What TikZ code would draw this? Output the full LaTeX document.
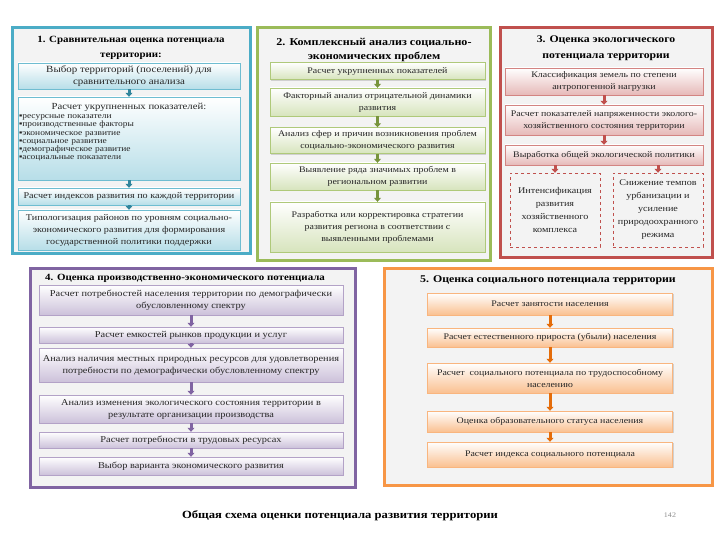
\documentclass[tikz,border=0pt]{standalone}
\usepackage{fontspec}
\setmainfont{Liberation Serif}[FakeStretch=1.15]
\usetikzlibrary{arrows.meta,shadows}

\definecolor{panelfill}{HTML}{F3F3F3}
\definecolor{tealline}{HTML}{4BACC6}
\definecolor{tealtint}{HTML}{B7DEE8}
\definecolor{tealarrow}{HTML}{31859C}
\definecolor{greenline}{HTML}{9BBB59}
\definecolor{greentint}{HTML}{D7E4BD}
\definecolor{greenarrow}{HTML}{77933C}
\definecolor{redline}{HTML}{C0504D}
\definecolor{redtint}{HTML}{E6B9B8}
\definecolor{purpleline}{HTML}{8064A2}
\definecolor{purpletint}{HTML}{CCC1DA}
\definecolor{orangeline}{HTML}{F79646}
\definecolor{orangetint}{HTML}{FAC090}
\definecolor{orangearrow}{HTML}{E46C0A}

\tikzset{
  panel/.style={line width=3pt, fill=panelfill},
  paneltitle/.style={font=\bfseries\fontsize{9.5}{15}\selectfont, align=center, inner sep=0pt},
  box/.style={inner sep=1pt, align=center, text=black!85,
    font=\fontsize{8.6}{12}\selectfont,
    drop shadow={shadow xshift=1.2pt, shadow yshift=-1.2pt, opacity=0.3}},
  boxa/.style={box, minimum width=222pt, font=\fontsize{8.8}{12}\selectfont,
    top color=white, bottom color=tealtint, draw=tealline!80},
  boxb/.style={box, minimum width=215pt, top color=white, bottom color=greentint, draw=greenline!80},
  boxc/.style={box, minimum width=198pt, top color=white, bottom color=redtint, draw=redline!70},
  boxd/.style={box, minimum width=304pt, font=\fontsize{9}{12}\selectfont,
    top color=white, bottom color=purpletint, draw=purpleline!60},
  boxe/.style={box, minimum width=245pt, top color=white, bottom color=orangetint, draw=orangeline!70},
  dashbox/.style={draw=redline, dashed, align=center, inner sep=1pt, minimum width=90pt,
    minimum height=74pt, font=\fontsize{8.8}{13}\selectfont, text=black!85},
  flow/.style={-{Triangle[width=7pt,length=4pt]}, line width=3pt},
}

\begin{document}
\begin{tikzpicture}[x=1pt,y=-1pt]
\useasboundingbox (0,0) rectangle (720,540);

% The five panels
\draw[panel, draw=tealline] (12,28) rectangle (250,253);
\draw[panel, draw=greenline] (257,28) rectangle (490,260);
\draw[panel, draw=redline] (500,28) rectangle (712,257);
\draw[panel, draw=purpleline] (30,268) rectangle (355,487);
\draw[panel, draw=orangeline] (384,268) rectangle (712,485);

% Panel 1
\node[paneltitle] (ta) at (131,47.5) {1. Сравнительная оценка потенциала\\территории:};
\node[boxa, minimum height=26pt, font=\fontsize{9.5}{12}\selectfont] (a1) at (129,76) {Выбор территорий (поселений) для\\сравнительного анализа};
\node[boxa, minimum height=83pt, text width=220pt, align=left, font=\fontsize{8.2}{8.3}\selectfont] (a2) at (129,138.5)
  {{\fontsize{9.3}{9}\selectfont\makebox[\linewidth]{Расчет укрупненных показателей:}}\\[1pt]
   ▪ресурсные показатели\\
   ▪производственные факторы\\
   ▪экономическое развитие\\
   ▪социальное развитие\\
   ▪демографическое развитие\\
   ▪асоциальные показатели\\[6pt]\mbox{}};
\node[boxa, minimum height=17pt] (a3) at (129,196.5) {Расчет индексов развития по каждой территории};
\node[boxa, minimum height=40pt] (a4) at (129,230) {Типологизация районов по уровням социально-\\экономического развития для формирования\\государственной политики поддержки};
\foreach \i/\j in {a1/a2, a2/a3, a3/a4}
  \draw[flow, tealarrow] (\i.south) -- (\j.north);

% Panel 2
\node[paneltitle, font=\bfseries\fontsize{10.5}{14}\selectfont] (tb) at (374,50) {2. Комплексный анализ социально-\\экономических проблем};
\node[boxb, minimum height=17pt] (b1) at (377.5,71) {Расчет укрупненных показателей};
\node[boxb, minimum height=28pt] (b2) at (377.5,102) {Факторный анализ отрицательной динамики\\развития};
\node[boxb, minimum height=26pt] (b3) at (377.5,140.5) {Анализ сфер и причин возникновения проблем\\социально-экономического развития};
\node[boxb, minimum height=27pt] (b4) at (377.5,176.5) {Выявление ряда значимых проблем в\\региональном развитии};
\node[boxb, minimum height=50pt] (b5) at (377.5,227) {Разработка или корректировка стратегии\\развития региона в соответствии с\\выявленными проблемами};
\foreach \i/\j in {b1/b2, b2/b3, b3/b4, b4/b5}
  \draw[flow, greenarrow] (\i.south) -- (\j.north);

% Panel 3
\node[paneltitle, font=\bfseries\fontsize{10.2}{16}\selectfont] (tc) at (606,48.5) {3. Оценка экологического\\потенциала территории};
\node[boxc, minimum height=27pt] (c1) at (604,81.5) {Классификация земель по степени\\антропогенной нагрузки};
\node[boxc, minimum height=30pt] (c2) at (604,120) {Расчет показателей напряженности эколого-\\хозяйственного состояния территории};
\node[boxc, minimum height=20pt] (c3) at (604,155) {Выработка общей экологической политики};
\node[dashbox] (c4) at (555,210) {Интенсификация\\развития\\хозяйственного\\комплекса};
\node[dashbox] (c5) at (658,210) {Снижение темпов\\урбанизации и\\усиление\\природоохранного\\режима};
\foreach \i/\j in {c1/c2, c2/c3}
  \draw[flow, redline] (\i.south) -- (\j.north);
\draw[flow, redline] (c3.south -| c4) -- (c4.north);
\draw[flow, redline] (c3.south -| c5) -- (c5.north);

% Panel 4
\node[paneltitle, anchor=west] (td) at (45,278) {4. Оценка производственно-экономического потенциала};
\node[boxd, minimum height=30pt] (d1) at (191,300) {Расчет потребностей населения территории по демографически\\обусловленному спектру};
\node[boxd, minimum height=16pt] (d2) at (191,335) {Расчет емкостей рынков продукции и услуг};
\node[boxd, minimum height=34pt] (d3) at (191,365) {Анализ наличия местных природных ресурсов для удовлетворения\\потребности по демографически обусловленному спектру};
\node[boxd, minimum height=28pt] (d4) at (191,409) {Анализ изменения экологического состояния территории в\\результате организации производства};
\node[boxd, minimum height=16pt] (d5) at (191,440) {Расчет потребности в трудовых ресурсах};
\node[boxd, minimum height=18pt] (d6) at (191,466) {Выбор варианта экономического развития};
\foreach \i/\j in {d1/d2, d2/d3, d3/d4, d4/d5, d5/d6}
  \draw[flow, purpleline] (\i.south) -- (\j.north);

% Panel 5
\node[paneltitle, font=\bfseries\fontsize{10.3}{15}\selectfont] (te) at (548,280) {5. Оценка социального потенциала территории};
\node[boxe, minimum height=22pt] (e1) at (550,304) {Расчет занятости населения};
\node[boxe, minimum height=19pt] (e2) at (550,337.5) {Расчет естественного прироста (убыли) населения};
\node[boxe, minimum height=30pt] (e3) at (550,378) {Расчет\ \ социального потенциала по трудоспособному\\населению};
\node[boxe, minimum height=21pt] (e4) at (550,421.5) {Оценка образовательного статуса населения};
\node[boxe, minimum height=25pt] (e5) at (550,454.5) {Расчет индекса социального потенциала};
\foreach \i/\j in {e1/e2, e2/e3, e3/e4, e4/e5}
  \draw[flow, orangearrow] (\i.south) -- (\j.north);

% Caption
\node[font=\bfseries\fontsize{11}{13}\selectfont] (cap) at (340,516) {Общая схема оценки потенциала развития территории};
\node[font=\fontsize{7}{8}\selectfont, text=black!45] (pg) at (670,515) {142};

\end{tikzpicture}
\end{document}
